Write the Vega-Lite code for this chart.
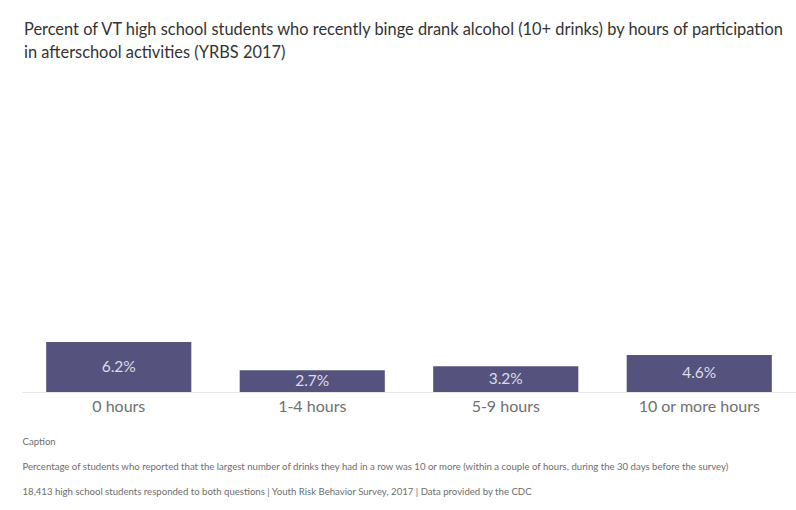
{
  "$schema": "https://vega.github.io/schema/vega-lite/v6.json",
  "autosize": {"type": "none"},
  "padding": {"left": 22, "top": 70, "right": 0, "bottom": 118},
  "width": 774,
  "height": 322,
  "background": "white",
  "config": {"view": {"stroke": null}, "font": "Lato"},
  "title": {
    "text": ["Percent of VT high school students who recently binge drank alcohol (10+ drinks) by hours of participation", "in afterschool activities (YRBS 2017)"],
    "anchor": "start",
    "font": "Lato",
    "fontSize": 16.4,
    "fontWeight": "normal",
    "color": "#333333",
    "lineHeight": 23,
    "offset": 9,
    "dx": 2
  },
  "data": {
    "values": [
      {"hours": "0 hours", "pct": 0.062},
      {"hours": "1-4 hours", "pct": 0.027},
      {"hours": "5-9 hours", "pct": 0.032},
      {"hours": "10 or more hours", "pct": 0.046}
    ]
  },
  "transform": [{"calculate": "datum.pct / 2", "as": "mid"}],
  "encoding": {
    "x": {
      "field": "hours",
      "type": "nominal",
      "sort": null,
      "scale": {"paddingInner": 0.25, "paddingOuter": 0.125},
      "axis": {
        "labelAngle": 0,
        "labelFontSize": 16,
        "labelColor": "#707070",
        "labelPadding": 6,
        "ticks": false,
        "domainColor": "#e6e6e6",
        "title": ["Caption", "Percentage of students who reported that the largest number of drinks they had in a row was 10 or more (within a couple of hours, during the 30 days before the survey)", "18,413 high school students responded to both questions | Youth Risk Behavior Survey, 2017 | Data provided by the CDC"],
        "titleFontSize": 9.6,
        "titleFontWeight": "normal",
        "titleColor": "#6e6e6e",
        "titleAnchor": "start",
        "titleAlign": "left",
        "titleLineHeight": 25,
        "titlePadding": 22
      }
    }
  },
  "layer": [
    {
      "mark": {"type": "bar", "color": "#55537d"},
      "encoding": {
        "y": {"field": "pct", "type": "quantitative", "scale": {"domain": [0, 0.4]}, "axis": null}
      }
    },
    {
      "mark": {"type": "text", "color": "#dcdcea", "fontSize": 15.5, "baseline": "middle"},
      "encoding": {
        "y": {"field": "mid", "type": "quantitative", "scale": {"domain": [0, 0.4]}, "axis": null},
        "text": {"field": "pct", "type": "quantitative", "format": ".1%"}
      }
    }
  ],
  "resolve": {"scale": {"y": "shared"}}
}
